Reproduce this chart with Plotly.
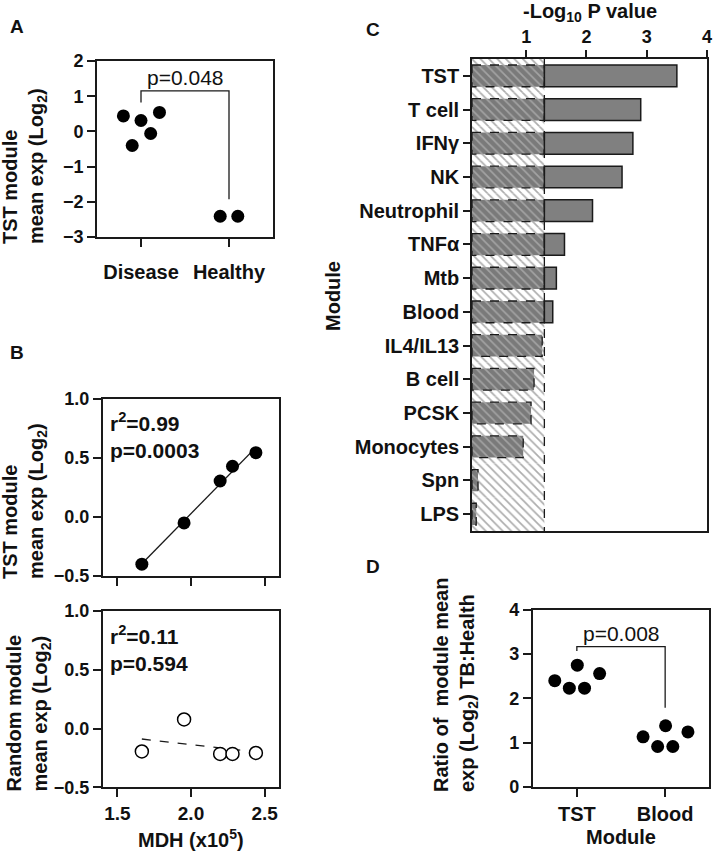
import numpy as np
import plotly.graph_objects as go

# ---------------- data ----------------
groups_a = ["Disease", "Healthy"]
disease_vals = [0.44, -0.40, 0.31, -0.06, 0.54]
disease_jitter = [-0.20, -0.10, 0.0, 0.11, 0.21]
healthy_vals = [-2.41, -2.41]
healthy_jitter = [-0.10, 0.10]
p_a = "p=0.048"

mdh = [1.666, 1.953, 2.198, 2.282, 2.441]
tst_mean = [-0.40, -0.05, 0.305, 0.43, 0.545]
random_mean = [-0.195, 0.077, -0.216, -0.216, -0.208]
stats_top = "r<sup>2</sup>=0.99<br>p=0.0003"
stats_bottom = "r<sup>2</sup>=0.11<br>p=0.594"

modules = ["TST", "T cell", "IFNγ", "NK", "Neutrophil", "TNFα", "Mtb", "Blood",
           "IL4/IL13", "B cell", "PCSK", "Monocytes", "Spn", "LPS"]
neglogp = [3.50, 2.90, 2.77, 2.59, 2.10, 1.635, 1.50, 1.44, 1.265, 1.13, 1.08, 0.95, 0.20, 0.17]
threshold = -np.log10(0.05)
c_base = 0.1

groups_d = ["TST", "Blood"]
ratio_tst = [2.40, 2.23, 2.75, 2.23, 2.56]
ratio_blood = [1.13, 0.91, 1.38, 0.91, 1.24]
jitter_d = [-0.25, -0.085, 0.005, 0.087, 0.258]
p_d = "p=0.008"

# ---------------- layout helpers ----------------
W, H = 713, 851
def fx(px): return px / W
def fy(py): return 1 - py / H

FONT = "Liberation Sans, Arial, sans-serif"
LC = "#1a1a1a"
TXT = "#111111"

def tfont(size, bold=True):
    return dict(family=FONT, size=size, color=TXT, weight="bold" if bold else "normal")

def axis_style(**kw):
    d = dict(showline=True, linecolor=LC, linewidth=1.6, mirror=True, automargin=False,
             ticks="outside", ticklen=8, tickwidth=1.5, tickcolor=LC,
             showgrid=False, zeroline=False, tickfont=tfont(18))
    d.update(kw)
    return d

fig = go.Figure()

# ---------------- Panel A ----------------
fig.add_trace(go.Scatter(x=[0 + j for j in disease_jitter], y=disease_vals, mode="markers",
                         marker=dict(size=13, color="black"), xaxis="x", yaxis="y", showlegend=False))
fig.add_trace(go.Scatter(x=[1 + j for j in healthy_jitter], y=healthy_vals, mode="markers",
                         marker=dict(size=13, color="black"), xaxis="x", yaxis="y", showlegend=False))
a_left = max(disease_vals) + 0.28
a_top = a_left + 0.33
a_right = max(healthy_vals) + 0.48
fig.add_trace(go.Scatter(x=[0, 0, 1, 1], y=[a_left, a_top, a_top, a_right], mode="lines",
                         line=dict(color=LC, width=1.3), xaxis="x", yaxis="y", showlegend=False))

# ---------------- Panel B ----------------
k1, b1 = np.polyfit(mdh, tst_mean, 1)
xl = np.array([min(mdh), max(mdh)])
fig.add_trace(go.Scatter(x=xl, y=k1 * xl + b1, mode="lines", line=dict(color=LC, width=1.3),
                         xaxis="x2", yaxis="y2", showlegend=False))
fig.add_trace(go.Scatter(x=mdh, y=tst_mean, mode="markers", marker=dict(size=13, color="black"),
                         xaxis="x2", yaxis="y2", showlegend=False))

k2, b2 = np.polyfit(mdh, random_mean, 1)
fig.add_trace(go.Scatter(x=xl, y=k2 * xl + b2, mode="lines", line=dict(color=LC, width=1.3, dash="dash"),
                         xaxis="x3", yaxis="y3", showlegend=False))
fig.add_trace(go.Scatter(x=mdh, y=random_mean, mode="markers",
                         marker=dict(size=13, color="white", line=dict(color="black", width=1.5)),
                         xaxis="x3", yaxis="y3", showlegend=False))

# ---------------- Panel C ----------------
idx = list(range(len(modules)))
fig.add_trace(go.Bar(y=idx, x=[threshold - c_base] * len(modules), base=c_base, orientation="h", width=1.0,
                     marker=dict(color="white", line=dict(width=0),
                                 pattern=dict(shape="\\", fgcolor="#adadad", bgcolor="white",
                                              size=6, solidity=0.28)),
                     xaxis="x4", yaxis="y4", showlegend=False, hoverinfo="skip"))
bw = 0.645
fig.add_trace(go.Bar(y=idx, x=[min(v, threshold) - c_base for v in neglogp], base=c_base,
                     orientation="h", width=bw,
                     marker=dict(color="#7a7a7a", line=dict(width=0),
                                 pattern=dict(shape="\\", fgcolor="#a3a3a3", bgcolor="#7a7a7a",
                                              size=6, solidity=0.28)),
                     xaxis="x4", yaxis="y4", showlegend=False))
hi_idx = [i for i, v in zip(idx, neglogp) if v > threshold]
fig.add_trace(go.Bar(y=hi_idx, x=[neglogp[i] - threshold for i in hi_idx], base=threshold,
                     orientation="h", width=bw,
                     marker=dict(color="#808080", line=dict(color=LC, width=1.5)),
                     xaxis="x4", yaxis="y4", showlegend=False))

shapes = []
for i, v in zip(idx, neglogp):
    shapes.append(dict(type="rect", xref="x4", yref="y4", x0=c_base, x1=min(v, threshold),
                       y0=i - bw / 2, y1=i + bw / 2, line=dict(color=LC, width=1.3, dash="dash"),
                       fillcolor="rgba(0,0,0,0)"))
shapes.append(dict(type="line", xref="x4", yref="y4", x0=threshold, x1=threshold,
                   y0=-0.5, y1=len(modules) - 0.5, line=dict(color=LC, width=1.3, dash="dash")))

# ---------------- Panel D ----------------
fig.add_trace(go.Scatter(x=[0 + j for j in jitter_d], y=ratio_tst, mode="markers",
                         marker=dict(size=13, color="black"), xaxis="x5", yaxis="y5", showlegend=False))
fig.add_trace(go.Scatter(x=[1 + j for j in jitter_d], y=ratio_blood, mode="markers",
                         marker=dict(size=13, color="black"), xaxis="x5", yaxis="y5", showlegend=False))
d_left = max(ratio_tst) + 0.32
d_top = d_left + 0.10
d_right = max(ratio_blood) + 0.41
fig.add_trace(go.Scatter(x=[0, 0, 1, 1], y=[d_left, d_top, d_top, d_right], mode="lines",
                         line=dict(color=LC, width=1.3), xaxis="x5", yaxis="y5", showlegend=False))

# ---------------- axes ----------------
fig.update_layout(
    template="none",
    width=W, height=H, margin=dict(l=0, r=0, t=0, b=0, autoexpand=False),
    paper_bgcolor="white", plot_bgcolor="white", barmode="overlay",
    font=dict(family=FONT, color=TXT),
    xaxis=axis_style(domain=[fx(97), fx(273)], anchor="y", range=[-0.5, 1.5],
                     tickvals=[0, 1], ticktext=groups_a, ticklabelstandoff=8, tickfont=tfont(20)),
    yaxis=axis_style(domain=[fy(237), fy(61)], anchor="x", range=[-3, 2], dtick=1),
    xaxis2=axis_style(domain=[fx(102.7), fx(279.3)], anchor="y2", range=[1.4, 2.6],
                      tickvals=[1.5, 2.0, 2.5], showticklabels=False),
    yaxis2=axis_style(domain=[fy(576), fy(399)], anchor="x2", range=[-0.5, 1.0],
                      tickvals=[-0.5, 0.0, 0.5, 1.0], tickformat=".1f"),
    xaxis3=axis_style(domain=[fx(102.7), fx(279.3)], anchor="y3", range=[1.4, 2.6],
                      tickvals=[1.5, 2.0, 2.5], tickformat=".1f", tickfont=tfont(19)),
    yaxis3=axis_style(domain=[fy(787.3), fy(611)], anchor="x3", range=[-0.5, 1.0],
                      tickvals=[-0.5, 0.0, 0.5, 1.0], tickformat=".1f"),
    xaxis4=axis_style(domain=[fx(472), fx(707)], anchor="y4", side="top", range=[c_base, 4],
                      tickvals=[1, 2, 3, 4], ticklen=7, tickfont=tfont(18)),
    yaxis4=axis_style(domain=[fy(531), fy(59)], anchor="x4", range=[len(modules) - 0.5, -0.5],
                      tickvals=idx, ticktext=modules, ticklen=7, tickfont=tfont(20)),
    xaxis5=axis_style(domain=[fx(532.7), fx(709.3)], anchor="y5", range=[-0.5, 1.5],
                      tickvals=[0, 1], ticktext=groups_d, tickfont=tfont(20)),
    yaxis5=axis_style(domain=[fy(786.7), fy(610)], anchor="x5", range=[0, 4], dtick=1),
    shapes=shapes,
)

# ---------------- annotations ----------------
def ann(text, x, y, size=20, bold=True, xanchor="center", yanchor="middle", angle=0, align="center",
        xref="paper", yref="paper"):
    return dict(text=text, x=x, y=y, xref=xref, yref=yref, showarrow=False, xanchor=xanchor,
                yanchor=yanchor, textangle=angle, align=align, font=tfont(size, bold))

anns = [
    ann("A", fx(17), fy(27), size=19),
    ann("B", fx(17), fy(353), size=19),
    ann("C", fx(373), fy(29), size=19),
    ann("D", fx(373), fy(566), size=19),
    ann(p_a, 0.5, a_top, size=21, bold=False, yanchor="bottom", xref="x", yref="y"),
    ann(p_d, 0.5, d_top, size=21, bold=False, yanchor="bottom", xref="x5", yref="y5"),
    ann(stats_top, fx(108), fy(407), size=21, xanchor="left", yanchor="top", align="left"),
    ann(stats_bottom, fx(108), fy(620), size=21, xanchor="left", yanchor="top", align="left"),
    ann("TST module<br>mean exp (Log<sub>2</sub>)", fx(24), fy(246), angle=-90, align="left",
        yanchor="bottom"),
    ann("TST module<br>mean exp (Log<sub>2</sub>)", fx(24), fy(581), angle=-90, align="left",
        yanchor="bottom"),
    ann("Random module<br>mean exp (Log<sub>2</sub>)", fx(28), fy(794), angle=-90, align="left",
        yanchor="bottom"),
    ann("MDH (x10<sup>5</sup>)", fx(191), fy(838)),
    ann("-Log<sub>10</sub> P value", fx(590), fy(12)),
    ann("Module", fx(333), fy(296), angle=-90),
    ann("Ratio of  module mean<br>exp (Log<sub>2</sub>) TB:Health", fx(455), fy(794), angle=-90,
        align="left", yanchor="bottom"),
    ann("Module", fx(621), fy(837)),
]
fig.update_layout(annotations=anns)

# remove the default 8px page margin so the figure sits at the window's top-left corner
fig.write_html("out.html", config={"displayModeBar": False},
               post_script="document.body.style.margin='0';document.body.style.overflow='hidden';")
